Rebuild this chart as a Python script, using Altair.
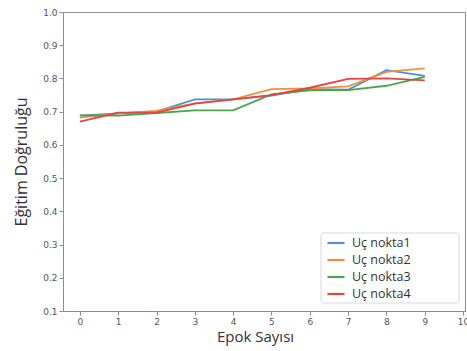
import altair as alt
import pandas as pd

epochs = [0, 1, 2, 3, 4, 5, 6, 7, 8, 9]
series_names = ["Uç nokta1", "Uç nokta2", "Uç nokta3", "Uç nokta4"]
acc_1 = [0.688, 0.695, 0.700, 0.737, 0.737, 0.748, 0.768, 0.766, 0.825, 0.808]
acc_2 = [0.682, 0.695, 0.702, 0.725, 0.737, 0.768, 0.770, 0.776, 0.820, 0.830]
acc_3 = [0.689, 0.688, 0.696, 0.704, 0.704, 0.752, 0.764, 0.765, 0.778, 0.805]
acc_4 = [0.670, 0.697, 0.697, 0.724, 0.737, 0.750, 0.772, 0.799, 0.800, 0.794]
colors = ["#4f92c9", "#f58d3a", "#4aa64a", "#df4747"]

rows = []
for name, vals in zip(series_names, [acc_1, acc_2, acc_3, acc_4]):
    for e, v in zip(epochs, vals):
        rows.append({"epok": e, "acc": v, "seri": name})
df = pd.DataFrame(rows)

axis_common = dict(
    domainColor="#8c8c8c", tickColor="#8c8c8c", labelColor="#555555",
    labelFont="DejaVu Sans", labelFontSize=9, titleFont="Open Sans",
    titleColor="#333333", titleFontWeight="normal",
    grid=False, tickSize=4,
)

lines = alt.Chart(df).mark_line(strokeWidth=1.8, clip=True).encode(
    x=alt.X("epok:Q", title="Epok Sayısı",
            scale=alt.Scale(domain=[-0.44, 10.05], nice=False, zero=False),
            axis=alt.Axis(values=list(range(11)), format="d", titlePadding=3,
                          titleFontSize=15, titleX=192, **axis_common)),
    y=alt.Y("acc:Q", title="Eğitim Doğruluğu",
            scale=alt.Scale(domain=[0.1, 1.0], nice=False, zero=False),
            axis=alt.Axis(values=[0.1, 0.2, 0.3, 0.4, 0.5, 0.6, 0.7, 0.8, 0.9, 1.0],
                          format=".1f", titlePadding=13, titleFontSize=16,
                          **axis_common)),
    color=alt.Color("seri:N", title=None,
                    scale=alt.Scale(domain=series_names, range=colors),
                    legend=alt.Legend(orient="none", legendX=258, legendY=216,
                                      symbolType="stroke", symbolSize=290,
                                      symbolStrokeWidth=2.2, labelFont="Open Sans",
                                      labelFontSize=12.5, labelColor="#333333",
                                      rowPadding=0, padding=5, labelOffset=6)),
)

# frame behind the legend entries
legend_box = alt.Chart(pd.DataFrame({"k": [0]})).mark_rect(
    fill="white", stroke="#d8d8d8", strokeWidth=1, cornerRadius=3
).encode(
    x=alt.value(258), x2=alt.value(396), y=alt.value(221), y2=alt.value(291)
)

chart = alt.layer(lines, legend_box).properties(
    width=402, height=299,
    autosize=alt.AutoSizeParams(type="none"),
    padding={"left": 63, "top": 12, "right": 2, "bottom": 40},
).configure_view(stroke="#8c8c8c", strokeWidth=1)

chart.save("out.html", embed_options={"renderer": "svg", "actions": False})
